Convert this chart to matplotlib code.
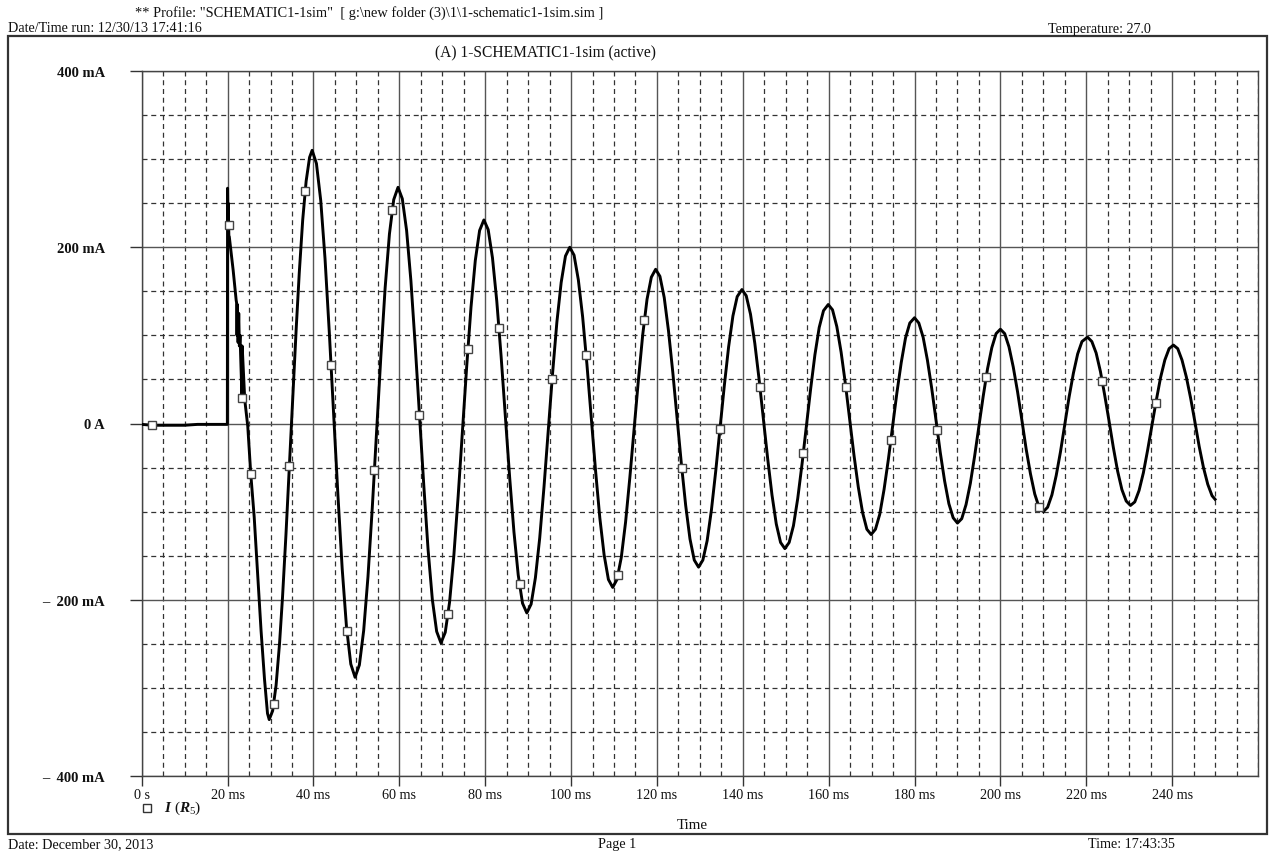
import numpy as np
import matplotlib
matplotlib.use("Agg")
import matplotlib.pyplot as plt
import matplotlib.transforms as mtransforms
from matplotlib.patches import Rectangle
from matplotlib.lines import Line2D
from matplotlib.ticker import MultipleLocator

# trace I(R5), time in ms, current in mA
t_ms = [
    0, 2.5, 5, 10, 13, 15, 19.95,
    20.0, 20.1, 20.15, 20.3, 20.4, 21.3, 22.0, 22.1, 22.2, 22.3, 22.45, 22.6, 22.75, 22.9,
    23.35, 23.4, 24.0, 24.7, 25.4, 26.2, 27.0, 27.8, 28.6, 29.3, 29.7,
    30.5, 31.3, 32.1, 32.8, 33.6, 34.4, 35.2, 36.0, 36.7, 37.5, 38.3, 39.1, 39.7,
    40.7, 41.7, 42.7, 43.7, 44.7, 45.7, 46.7, 47.7, 48.7, 49.7,
    50.7, 51.7, 52.7, 53.7, 54.7, 55.7, 56.7, 57.7, 58.7, 59.7,
    60.7, 61.7, 62.7, 63.7, 64.7, 65.7, 66.7, 67.7, 68.7, 69.7,
    70.7, 71.7, 72.7, 73.7, 74.7, 75.7, 76.7, 77.7, 78.7, 79.7,
    80.7, 81.7, 82.7, 83.7, 84.7, 85.7, 86.7, 87.7, 88.7, 89.7,
    90.7, 91.7, 92.7, 93.7, 94.7, 95.7, 96.7, 97.7, 98.7, 99.7,
    100.7, 101.7, 102.7, 103.7, 104.7, 105.7, 106.7, 107.7, 108.7, 109.7,
    110.7, 111.7, 112.7, 113.7, 114.7, 115.7, 116.7, 117.7, 118.7, 119.7,
    120.7, 121.7, 122.7, 123.7, 124.7, 125.7, 126.7, 127.7, 128.7, 129.7,
    130.7, 131.7, 132.7, 133.7, 134.7, 135.7, 136.7, 137.7, 138.7, 139.8,
    140.8, 141.8, 142.8, 143.8, 144.8, 145.8, 146.8, 147.8, 148.8, 149.8,
    150.8, 151.8, 152.8, 153.8, 154.8, 155.8, 156.8, 157.8, 158.8, 159.9,
    160.9, 161.9, 162.9, 163.9, 164.9, 165.9, 166.9, 167.9, 168.9, 169.9,
    170.9, 171.9, 172.9, 173.9, 174.9, 175.9, 176.9, 177.9, 178.9, 180.0,
    181, 182, 183, 184, 185, 186, 187, 188, 189, 190,
    191, 192, 193, 194, 195, 196, 197, 198, 199, 200,
    201, 202, 203, 204, 205, 206, 207, 208, 209, 210,
    211, 212, 213, 214, 215, 216, 217, 218, 219, 220.3,
    221.3, 222.3, 223.3, 224.3, 225.3, 226.3, 227.3, 228.3, 229.3, 230.3,
    231.3, 232.3, 233.3, 234.3, 235.3, 236.3, 237.3, 238.3, 239.3, 240.3,
    241.3, 242.3, 243.3, 244.3, 245.3, 246.3, 247.3, 248.3, 249.3, 250.0,
]
i_ma = [
    -1, -2, -2, -2, -1, -1, -1,
    267, 225, 250, 213, 212, 174, 140, 137, 100, 135, 92, 125, 88, 100,
    29, 88, 27, -3, -57, -106, -170, -235, -290, -329, -336,
    -326, -297, -250, -197, -126, -48, 32, 109, 171, 231, 275, 302, 310,
    295, 253, 187, 103, 11, -81, -165, -231, -273, -288,
    -274, -235, -174, -96, -10, 76, 154, 215, 254, 268,
    255, 219, 162, 89, 10, -70, -143, -200, -236, -249,
    -237, -203, -150, -83, -9, 65, 132, 185, 219, 231,
    220, 188, 139, 77, 8, -61, -123, -172, -204, -215,
    -205, -175, -130, -72, -8, 57, 115, 160, 190, 200,
    191, 163, 121, 67, 7, -53, -107, -149, -177, -186,
    -177, -152, -112, -61, -6, 50, 101, 141, 166, 175,
    167, 143, 105, 58, 6, -46, -93, -131, -155, -163,
    -155, -133, -98, -54, -6, 43, 87, 122, 144, 152,
    145, 124, 91, 50, 5, -40, -81, -114, -135, -142,
    -135, -116, -85, -46, -4, 39, 78, 109, 128, 135,
    129, 110, 81, 45, 5, -36, -72, -101, -120, -126,
    -120, -103, -75, -41, -3, 35, 69, 97, 114, 120,
    114, 98, 72, 40, 4, -33, -65, -91, -107, -113,
    -108, -92, -68, -37, -3, 31, 62, 86, 102, 107,
    102, 87, 64, 36, 4, -29, -57, -80, -95, -100,
    -95, -81, -59, -32, -1, 30, 57, 79, 93, 98,
    93, 80, 59, 32, 3, -27, -54, -75, -88, -93,
    -89, -76, -56, -30, -2, 26, 52, 72, 85, 89,
    85, 72, 53, 29, 2, -26, -50, -69, -82, -86,
]

# where the square symbols sit along the trace
marker_t = [2.5, 20.25, 23.35, 25.4, 30.7, 34.4, 38.1, 44.1, 47.8, 54.2, 58.4,
            64.7, 71.3, 76.0, 83.2, 88.0, 95.6, 103.5, 110.9, 117.1, 125.8,
            134.7, 144.0, 154.1, 164.0, 174.5, 185.3, 196.7, 209.0, 223.7, 236.2]

x_ticks = [0, 20, 40, 60, 80, 100, 120, 140, 160, 180, 200, 220, 240]
x_labels = ["0 s", "20 ms", "40 ms", "60 ms", "80 ms", "100 ms", "120 ms",
            "140 ms", "160 ms", "180 ms", "200 ms", "220 ms", "240 ms"]
y_ticks = [-400, -200, 0, 200, 400]
y_labels = ["\u2013  400 mA", "\u2013  200 mA", "0 A", "200 mA", "400 mA"]

W, H = 1271, 854
plt.rcParams['font.family'] = ['Liberation Serif', 'DejaVu Serif']
plt.rcParams['mathtext.fontset'] = 'custom'
plt.rcParams['mathtext.rm'] = 'Liberation Serif'
plt.rcParams['mathtext.it'] = 'Liberation Serif:italic:bold'
plt.rcParams['mathtext.bf'] = 'Liberation Serif:bold'

fig = plt.figure(figsize=(W / 100, H / 100), dpi=100)
fig.patch.set_facecolor('white')


def px_text(x, y, s, **kw):
    kw.setdefault('va', 'center')
    kw.setdefault('fontsize', 10.2)
    kw.setdefault('color', '#111111')
    fig.text(x / W, 1 - y / H, s, **kw)


ax = fig.add_axes([141.7 / W, 1 - 777 / H, (1258 - 141.7) / W, (777 - 72) / H])

ax.plot(t_ms, i_ma, color='black', lw=2.1, solid_joinstyle='round', zorder=3)
marker_y = np.interp(marker_t, t_ms, i_ma)
ax.plot(marker_t, marker_y, ls='none', marker='s', ms=5.5, mfc='white',
        mec='#444444', mew=1.0, zorder=4)

ax.set_xlim(0, 260)
ax.set_ylim(-400, 400)
ax.set_xticks(x_ticks)
ax.set_xticklabels(x_labels, fontsize=10.2)
ax.set_yticks(y_ticks)
ax.set_yticklabels(y_labels, fontsize=10.5, fontweight='bold')
ax.xaxis.set_minor_locator(MultipleLocator(5))
ax.yaxis.set_minor_locator(MultipleLocator(50))

# PSpice prints the time labels a bit left of their ticks
shift = mtransforms.ScaledTranslation(-11 / 100, 0, fig.dpi_scale_trans)
for lab in ax.get_xticklabels():
    lab.set_transform(lab.get_transform() + shift)

ax.grid(which='major', color='#555555', lw=1.0, ls='-')
ax.grid(which='minor', color='#333333', lw=0.9, ls=(0, (4, 3)))
ax.tick_params(which='minor', length=0)
ax.tick_params(axis='x', which='major', direction='out', length=7, width=1.0,
               pad=2, colors='#333333', labelcolor='#111111')
ax.tick_params(axis='y', which='major', direction='out', length=8.5, width=1.0,
               pad=18, colors='#333333', labelcolor='#111111')
for sp in ax.spines.values():
    sp.set_color('#444444')
    sp.set_linewidth(1.0)

# page frame and the PSpice print texts
fig.add_artist(Rectangle((8 / W, 1 - 835 / H), (1267 - 8) / W, (835 - 37) / H,
                         transform=fig.transFigure, fill=False, lw=1.6,
                         ec='#333333'))

px_text(135, 13, r'** Profile: "SCHEMATIC1-1sim"  [ g:\new folder (3)\1\1-schematic1-1sim.sim ]',
        ha='left', fontsize=10.4)
px_text(8, 29, "Date/Time run: 12/30/13 17:41:16", ha='left')
px_text(1048, 29, "Temperature: 27.0", ha='left')
px_text(545, 53, "(A) 1-SCHEMATIC1-1sim (active)", ha='center', fontsize=11.2)
px_text(692, 826, "Time", ha='center', fontsize=10.8)
px_text(8, 845, "Date: December 30, 2013", ha='left')
px_text(598, 845, "Page 1", ha='left')
px_text(1088, 845, "Time: 17:43:35", ha='left')

fig.add_artist(Line2D([147 / W], [1 - 809 / H], transform=fig.transFigure,
                      marker='s', ms=5.5, mfc='white', mec='#333333', mew=1.0))
px_text(164, 808, r'$I\ (R_5)$', ha='left', fontsize=11)

fig.savefig("out.png", dpi=100)
